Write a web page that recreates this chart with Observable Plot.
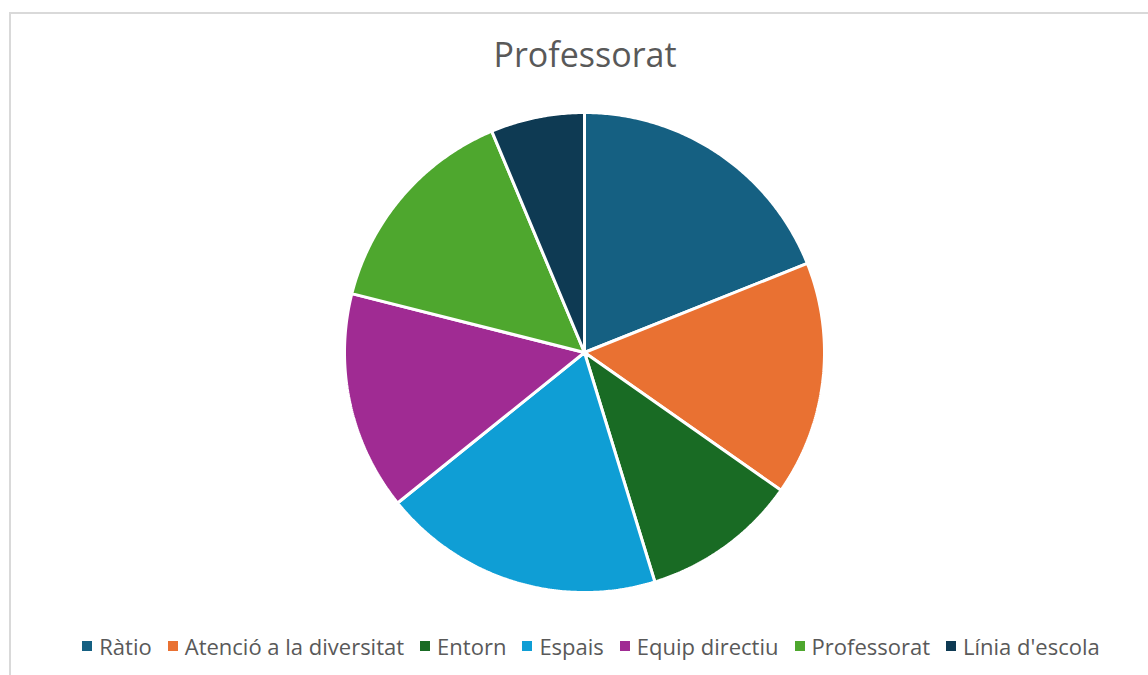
<!DOCTYPE html>
<html>
<head>
<meta charset="utf-8">
<script src="https://cdn.jsdelivr.net/npm/d3@7"></script>
<script src="https://cdn.jsdelivr.net/npm/@observablehq/plot@0.6"></script>
<style>
  html, body { margin: 0; padding: 0; background: #fff; }
  #wrap { position: relative; width: 1148px; height: 675px; overflow: hidden; font-family: "Open Sans", "Noto Sans", sans-serif; }
  #frame { position: absolute; left: 9px; top: 12px; width: 1200px; height: 700px; border: 2px solid #d9d9d9; box-sizing: border-box; }
  #title { position: absolute; left: 0; width: 1170px; top: 31px; text-align: center; font-size: 34px; color: #595959; }
  #chart { position: absolute; left: 0; top: 100px; }
  #legend { position: absolute; left: 0; width: 1198px; top: 629px; display: flex; justify-content: center; }
  #legend span[class*="-swatch"] { margin-right: 16px !important; }
  #legend span[class*="-swatch"] > svg { margin-right: 7px !important; }
</style>
</head>
<body>
<div id="wrap">
  <div id="frame"></div>
  <div id="title">Professorat</div>
  <div id="chart"></div>
  <div id="legend"></div>
</div>
<script>
const categories = ["Ràtio", "Atenció a la diversitat", "Entorn", "Espais", "Equip directiu", "Professorat", "Línia d'escola"];
const values = [18, 15, 10, 18, 14, 14, 6];
const colors = ["#156082", "#E97132", "#196B24", "#0F9ED5", "#A02B93", "#4EA72E", "#0E3A53"];

const table = categories.map((c, i) => ({category: c, value: values[i]}));
const arcs = d3.pie().sort(null).value(d => d.value).startAngle(0).endAngle(2 * Math.PI)(table);

const slices = arcs.map(a => {
  const pts = [[0, 0]];
  const n = Math.max(4, Math.ceil((a.endAngle - a.startAngle) / (Math.PI / 360)));
  for (let k = 0; k <= n; k++) {
    const t = a.startAngle + (a.endAngle - a.startAngle) * k / n;
    pts.push([Math.sin(t), -Math.cos(t)]);
  }
  pts.push([0, 0]);
  return {type: "Feature", properties: {category: a.data.category}, geometry: {type: "Polygon", coordinates: [pts]}};
});

const chart = Plot.plot({
  width: 1148,
  height: 504,
  marginTop: 12,
  marginBottom: 12,
  marginLeft: 344,
  marginRight: 324,
  projection: {type: "identity", domain: {type: "MultiPoint", coordinates: [[-1, -1], [1, 1]]}},
  color: {domain: categories, range: colors},
  marks: [
    Plot.geo(slices, {fill: d => d.properties.category, stroke: "white", strokeWidth: 3, strokeLinejoin: "miter"})
  ]
});
document.getElementById("chart").appendChild(chart);

const legend = Plot.legend({
  color: {domain: categories, range: colors},
  swatchSize: 10,
  style: {fontSize: "22px", color: "#595959", fontFamily: "'Open Sans', 'Noto Sans', sans-serif"}
});
document.getElementById("legend").appendChild(legend);
</script>
</body>
</html>
